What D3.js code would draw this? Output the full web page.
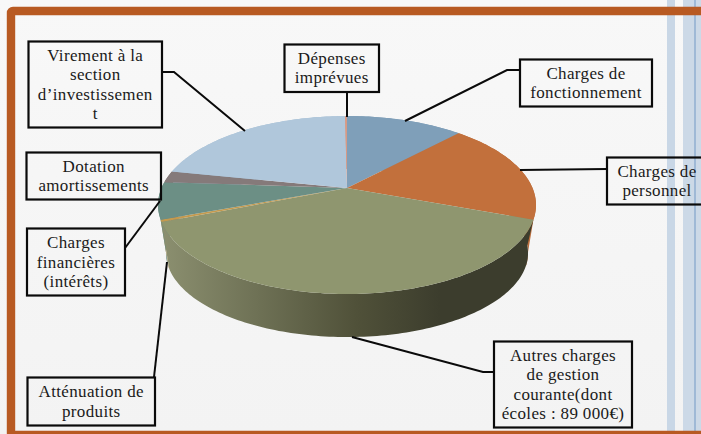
<!DOCTYPE html>
<html><head><meta charset="utf-8">
<script src="https://cdn.jsdelivr.net/npm/d3@7/dist/d3.min.js"></script>
<style>html,body{margin:0;padding:0;background:#f6f6f6;overflow:hidden}svg{display:block}</style>
</head><body><div id="c"></div>
<script>
// Data (estimated shares, %)
const categories = ["Charges de fonctionnement","Charges de personnel","Autres charges de gestion courante","Atténuation de produits","Charges financières","Dotation amortissements","Virement à la section d’investissement","Dépenses imprévues"];
const shares = [12, 18.6, 38.4, 0.4, 6.7, 2.1, 21.6, 0.2];
const sliceColors = ["#7f9fb9","#c2703c","#8f966f","#c49a4e","#6c8f85","#857a7a","#b0c7db","#d89a85"];
const labelLines = [
  ["Charges de","fonctionnement"],
  ["Charges de","personnel"],
  ["Autres charges","de gestion","courante(dont","écoles : 89 000€)"],
  ["Atténuation de","produits"],
  ["Charges","financières","(intérêts)"],
  ["Dotation","amortissements"],
  ["Virement à la","section","d’investissemen","t"],
  ["Dépenses","imprévues"]
];
// Layout only
const boxes = [
  {x:520,y:59.5,w:132,h:47,leader:[[520,70],[507,70],[405,121]]},
  {x:607,y:157.5,w:110,h:47,tx:657,leader:[[607,169],[520,170]]},
  {x:494,y:341.5,w:138,h:86,leader:[[494,372],[483,372],[352,337]]},
  {x:27.5,y:377.5,w:127.5,h:48,leader:[[154,377],[167,262]]},
  {x:27,y:228.5,w:98,h:67,leader:[[125,248],[160,201]]},
  {x:26.5,y:152.5,w:134.5,h:47,leader:[]},
  {x:28.5,y:41.5,w:133.5,h:86,leader:[[162,72],[174,72],[245,131]]},
  {x:284.5,y:44.5,w:94.5,h:47.5,leader:[[347,92],[347,117]]}
];
const W=701,H=434,cx=347,apexY=188,k=0.191,S=85.75,R=185.5;
const svg=d3.select("#c").append("svg").attr("width",W).attr("height",H);
const defs=svg.append("defs");
const bg=defs.append("linearGradient").attr("id","bg").attr("x1",0).attr("x2",0).attr("y1",0).attr("y2",1);
bg.append("stop").attr("offset",0).attr("stop-color","#f8f8f8");
bg.append("stop").attr("offset",1).attr("stop-color","#f3f3f3");
const wg=defs.append("linearGradient").attr("id","wall").attr("gradientUnits","userSpaceOnUse")
  .attr("x1",160).attr("x2",440).attr("y1",0).attr("y2",0);
[[0,"#8c9070"],[0.35,"#6e7155"],[0.7,"#505139"],[1,"#3c3d2d"]].forEach(s=>wg.append("stop").attr("offset",s[0]).attr("stop-color",s[1]));

svg.append("rect").attr("width",W).attr("height",H).attr("fill","url(#bg)");
svg.append("rect").attr("x",667).attr("width",8).attr("height",H).attr("fill","#c9d7e6");
svg.append("rect").attr("x",683).attr("width",18).attr("height",H).attr("fill","#ccd9e7");
svg.append("rect").attr("x",694).attr("width",2).attr("height",H).attr("fill","#9fb9d6");
svg.append("rect").attr("x",11).attr("y",11).attr("width",800).attr("height",424).attr("rx",2)
  .attr("fill","none").attr("stroke","#b85a22").attr("stroke-width",8.4);

// Perspective projection of a circle angle (clockwise from top)
function topRim(a){const u=Math.sin(a),v=-Math.cos(a),w=1-k*v;return [cx+R*u/w,apexY+S*v/w];}
function bottomRim(a){const u=Math.sin(a),v=-Math.cos(a),w=1-k*v;return [cx+R*0.958*u/w,apexY+49+S*0.944*v/w];}
const arcs=d3.pie().sort(null).value(d=>d)(shares);
const line=d3.line();
function rim(f,a0,a1){const n=Math.max(2,Math.ceil((a1-a0)/0.02));return d3.range(n+1).map(i=>f(a0+(a1-a0)*i/n));}

const autres=2;
const wallOrder=arcs.map((d,i)=>i).filter(i=>i!==autres).concat([autres]);
svg.append("g").selectAll("path").data(wallOrder).join("path")
  .attr("d",i=>{const a=arcs[i],s=i===autres?a.startAngle-0.25:a.startAngle;return line(rim(topRim,a.startAngle,a.endAngle).concat(rim(bottomRim,s,a.endAngle).reverse()))+"Z";})
  .attr("fill",i=>i===autres?"url(#wall)":d3.color(sliceColors[i]).darker(0.1));
svg.append("g").selectAll("path").data(arcs).join("path")
  .attr("d",a=>line([[cx,apexY]].concat(rim(topRim,a.startAngle,a.endAngle)))+"Z")
  .attr("fill",(a,i)=>sliceColors[i]);

// Callouts
const g=svg.append("g");
const lh=19.3;
g.selectAll("path.leader").data(boxes).join("path").attr("class","leader")
  .attr("d",b=>b.leader.length?line(b.leader):null).attr("fill","none").attr("stroke","#0a0a0a").attr("stroke-width",2);
g.selectAll("rect").data(boxes).join("rect")
  .attr("x",b=>b.x).attr("y",b=>b.y).attr("width",b=>b.w).attr("height",b=>b.h)
  .attr("fill","none").attr("stroke","#0a0a0a").attr("stroke-width",2.2);
const t=g.selectAll("text").data(boxes).join("text")
  .attr("text-anchor","middle").attr("font-family","'Liberation Serif',serif").attr("font-size",17).attr("letter-spacing",0.35).attr("fill","#1a1a1a");
t.each(function(b,i){
  const ls=labelLines[i],tx=b.tx||b.x+b.w/2,cy=b.y+b.h/2-(ls.length-1)*lh/2;
  d3.select(this).selectAll("tspan").data(ls).join("tspan").attr("x",tx).attr("y",(d,j)=>cy+j*lh+5.5).text(d=>d);
});
</script></body></html>
